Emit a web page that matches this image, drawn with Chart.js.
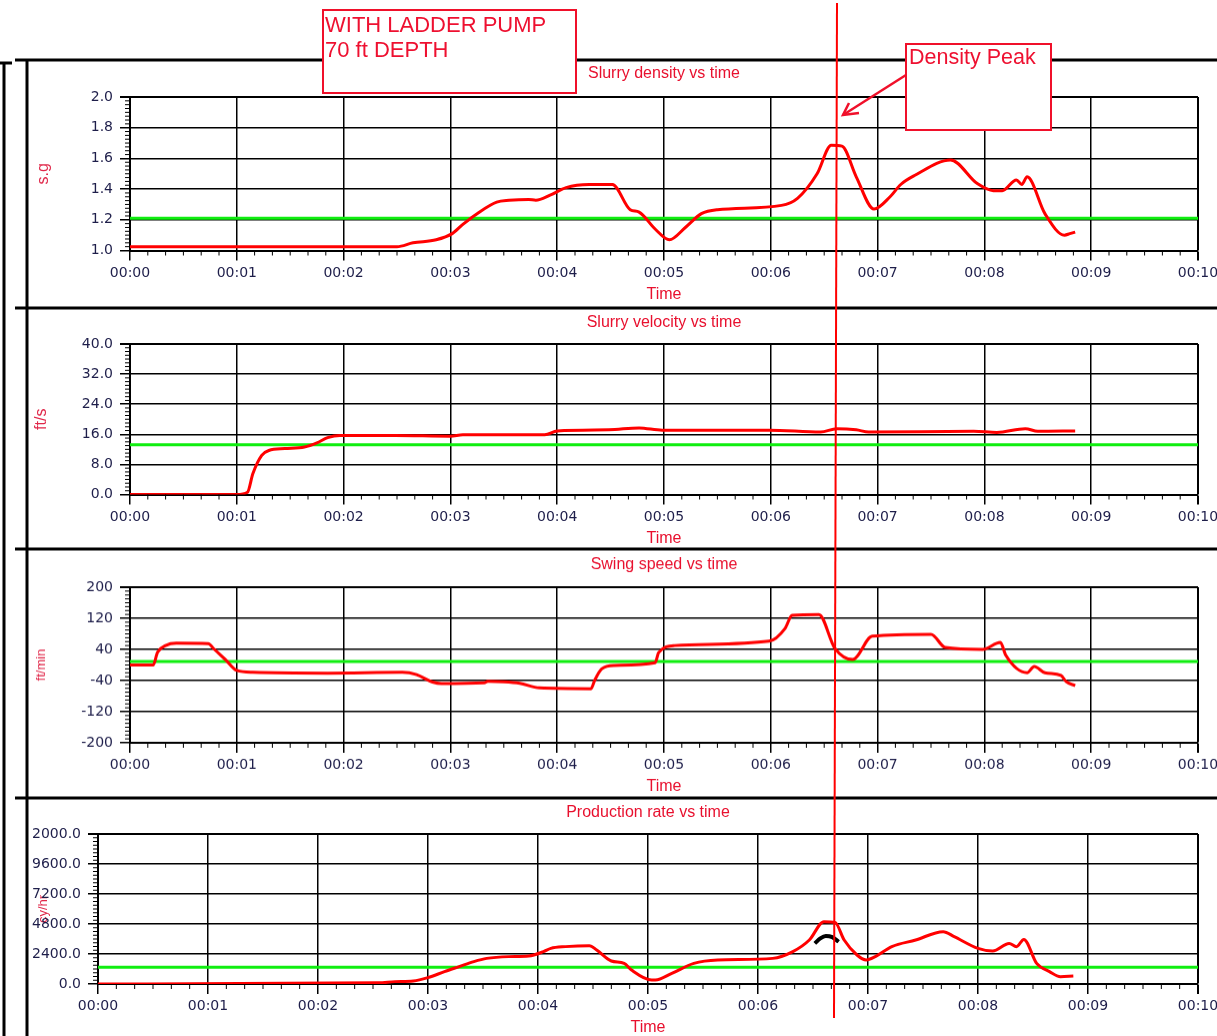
<!DOCTYPE html>
<html>
<head>
<meta charset="utf-8">
<title>Ladder pump run</title>
<script src="https://cdn.jsdelivr.net/npm/chart.js@4.4.1/dist/chart.umd.min.js"></script>
<style>
  html, body { margin: 0; padding: 0; background: #fff; overflow: hidden; }
  body { width: 1217px; height: 1036px; position: relative; }
  .panel { position: absolute; left: 0; width: 1260px; }
  #overlay { position: absolute; left: 0; top: 0; z-index: 5; pointer-events: none; }
</style>
</head>
<body>

<div class="panel" id="p1"><canvas id="densityChart"></canvas></div>
<div class="panel" id="p2"><canvas id="velocityChart"></canvas></div>
<div class="panel" id="p3"><canvas id="swingChart"></canvas></div>
<div class="panel" id="p4"><canvas id="prodChart"></canvas></div>

<svg id="overlay" width="1217" height="1036" font-family="Liberation Sans, Arial, sans-serif">
  <!-- frame -->
  <g stroke="#000" stroke-width="3" fill="none">
    <line x1="15" y1="60" x2="1217" y2="60" />
    <line x1="15" y1="308" x2="1217" y2="308" />
    <line x1="15" y1="549" x2="1217" y2="549" />
    <line x1="15" y1="798" x2="1217" y2="798" />
    <line x1="27" y1="60" x2="27" y2="1036" />
    <line x1="4" y1="62" x2="4" y2="1036" />
    <line x1="0" y1="63" x2="12" y2="63" />
  </g>
  <!-- marker for the density peak -->
  <line x1="837" y1="3" x2="834" y2="1018" stroke="#f00" stroke-width="2" />
  <rect x="323" y="10" width="253" height="83" fill="#fff" stroke="#f0102a" stroke-width="2" />
  <text x="325" y="31.5" font-size="22" fill="#ee1030">WITH LADDER PUMP</text>
  <text x="325" y="56.5" font-size="22" fill="#ee1030">70 ft DEPTH</text>
  <rect x="906" y="44" width="145" height="86" fill="#fff" stroke="#f0102a" stroke-width="2" />
  <text x="909" y="64" font-size="21.5" fill="#ee1030">Density Peak</text>
  <g stroke="#f0102a" stroke-width="2.5" fill="none">
    <line x1="906" y1="75" x2="843" y2="115" />
    <polyline points="849,103 843,115 859,113" />
  </g>
</svg>

<script>
// time axis in seconds, 00:00 .. 00:10
var timeTickLabels = ['00:00', '00:01', '00:02', '00:03', '00:04', '00:05', '00:06', '00:07', '00:08', '00:09', '00:10'];

// slurry density (s.g)
var densityTime = [0, 150, 159, 172, 181, 187, 195, 206, 213, 224, 228, 236, 245, 258, 271, 281, 286, 295, 303, 312,
  321, 330, 366, 375, 386, 394, 400, 408, 418, 427, 433, 441, 461, 476, 485, 490, 498, 501, 504, 514, 525, 528, 531];
var densityValues = [1.025, 1.025, 1.05, 1.07, 1.11, 1.17, 1.24, 1.315, 1.327, 1.333, 1.327, 1.36, 1.41, 1.43, 1.43, 1.266, 1.25, 1.14, 1.07, 1.15,
  1.24, 1.266, 1.294, 1.34, 1.50, 1.686, 1.68, 1.48, 1.27, 1.35, 1.43, 1.49, 1.59, 1.436, 1.39, 1.39, 1.46, 1.43, 1.48, 1.24, 1.10, 1.11, 1.12];
var densityRef = 1.21;
var densityTickLabels = ['1.0', '1.2', '1.4', '1.6', '1.8', '2.0'];

// slurry velocity (ft/s)
var velocityTime = [0, 60, 66, 69, 74, 78, 87, 98, 105, 111, 118, 149, 180, 187, 233, 240, 269, 286, 299, 359,
  388, 397, 408, 415, 474, 487, 503, 510, 531];
var velocityValues = [0, 0, 0.6, 5.5, 10.4, 11.7, 12.2, 12.6, 13.7, 15.1, 15.7, 15.7, 15.5, 15.9, 15.9, 16.9, 17.2, 17.7, 17.1, 17.1,
  16.6, 17.5, 17.2, 16.6, 16.8, 16.5, 17.5, 16.8, 16.9];
var velocityRef = 13.2;
var velocityTickLabels = ['0.0', '8.0', '16.0', '24.0', '32.0', '40.0'];

// swing speed (ft/min)
var swingTime = [0, 13, 15.5, 20, 26, 44, 47, 51, 54, 60, 69, 111, 153, 161, 170, 175, 199, 201, 210, 219,
  230, 259, 261, 265, 272, 295, 297, 306, 359, 368, 372, 387, 396, 406, 417, 450, 458, 479, 489, 492,
  504, 508, 514, 523, 526, 531];
var swingValues = [0, 0, 33, 50, 56, 55, 42, 25, 12, -14, -19, -21, -19, -25, -44, -48, -46, -42, -43, -47,
  -59, -61, -40, -10, -1, 6, 32, 50, 61, 94, 128, 130, 43, 14, 74, 79, 45, 40, 58, 25,
  -20, -4, -20, -27, -43, -53];
var swingRef = 9;
var swingTickLabels = ['-200', '-120', '-40', '40', '120', '200'];

// production rate (cy/hr)
var prodTime = [0, 153, 162, 172, 180, 189, 197, 205, 212, 224, 235, 243, 247, 255, 268, 272, 280, 287, 291, 302,
  304, 313, 325, 338, 368, 379, 388, 396, 402, 407, 414, 419, 424, 433, 446, 461, 467, 480, 488, 497,
  501, 505, 512, 519, 525, 532];
var prodValues = [0, 100, 190, 240, 510, 990, 1390, 1790, 2050, 2190, 2240, 2590, 2850, 2990, 3070, 2720, 1840, 1650, 1120, 320,
  320, 850, 1650, 1920, 2050, 2590, 3520, 4990, 4930, 3520, 2320, 1920, 2190, 2990, 3520, 4190, 3790, 2850, 2640, 3250,
  2990, 3570, 1650, 990, 590, 640];
var prodMarkTime = [391, 394, 397, 400.5, 404];
var prodMarkValues = [3250, 3650, 3840, 3750, 3380];
var prodRef = 1350;
var prodTickLabels = ['0.0', '2400.0', '4800.0', '7200.0', '9600.0', '2000.0'];

var RED = '#ff0000';
var GREEN = '#10ee10';
var TEXT_RED = '#e8102e';
var NAVY = '#1e1e4a';
var TICK_FONT = { family: 'DejaVu Sans', size: 14 };
var TITLE_FONT = { family: 'Liberation Sans', size: 16, weight: 'normal' };

function onStep(v, base, step) {
  var r = (v - base) / step;
  return Math.abs(r - Math.round(r)) < 1e-6;
}

function toPoints(xs, ys) {
  return xs.map(function (x, i) { return { x: x, y: ys[i] }; });
}

// draws the short minor tick marks outside the plot box
function minorTickPlugin(yMin, yMajor) {
  return {
    id: 'minorTicks',
    afterDraw: function (chart) {
      var ctx = chart.ctx, area = chart.chartArea, xs = chart.scales.x, ys = chart.scales.y;
      ctx.save();
      ctx.strokeStyle = '#000';
      ctx.lineWidth = 1;
      ctx.beginPath();
      xs.ticks.forEach(function (t) {
        if (onStep(t.value, 0, 60)) return;
        var px = xs.getPixelForValue(t.value);
        ctx.moveTo(px, area.bottom);
        ctx.lineTo(px, area.bottom + 5);
      });
      ys.ticks.forEach(function (t) {
        if (onStep(t.value, yMin, yMajor)) return;
        var py = ys.getPixelForValue(t.value);
        ctx.moveTo(area.left - 5, py);
        ctx.lineTo(area.left, py);
      });
      ctx.stroke();
      ctx.restore();
    }
  };
}

// p: page geometry of one panel, y: value axis settings
function makePanel(divId, canvasId, p, y, datasets) {
  var canvasTop = p.titleY - 20;
  var canvasH = p.timeY + 20 - canvasTop;
  var div = document.getElementById(divId);
  div.style.top = canvasTop + 'px';
  div.style.height = canvasH + 'px';

  var yTitleLH = y.titleSize * 1.2;

  return new Chart(document.getElementById(canvasId), {
    type: 'line',
    data: { datasets: datasets },
    options: {
      responsive: true,
      maintainAspectRatio: false,
      animation: false,
      events: [],
      layout: { padding: { left: 0, right: 1260 - 1198, top: 0, bottom: 0 } },
      plugins: {
        legend: { display: false },
        tooltip: { enabled: false },
        title: {
          display: true,
          text: p.title,
          color: TEXT_RED,
          font: TITLE_FONT,
          fullSize: false,
          padding: { top: 10.4, bottom: p.plotTop - p.titleY - 9.6 }
        }
      },
      scales: {
        x: {
          type: 'linear',
          min: 0,
          max: 600,
          afterFit: function (s) { s.height = p.timeY + 20 - p.plotBottom; },
          ticks: {
            stepSize: 10,
            autoSkip: false,
            maxRotation: 0,
            padding: 4,
            color: NAVY,
            font: TICK_FONT,
            callback: function (v) { return onStep(v, 0, 60) ? timeTickLabels[Math.round(v / 60)] : ''; }
          },
          grid: {
            color: function (c) { return c.tick && onStep(c.tick.value, 0, 60) ? '#000' : 'rgba(0,0,0,0)'; },
            tickColor: function (c) { return c.tick && onStep(c.tick.value, 0, 60) ? '#000' : 'rgba(0,0,0,0)'; },
            lineWidth: function (c) { return c.tick && c.tick.value === 600 ? 2 : 1.5; },
            tickLength: 10
          },
          border: { color: '#000', width: 2 },
          title: {
            display: true,
            text: 'Time',
            color: TEXT_RED,
            font: TITLE_FONT,
            padding: { top: 0, bottom: 10.4 }
          }
        },
        y: {
          min: y.min,
          max: y.max,
          afterFit: function (s) { s.width = p.left; },
          ticks: {
            stepSize: y.minor,
            autoSkip: false,
            padding: 7,
            color: NAVY,
            font: TICK_FONT,
            callback: function (v) {
              return onStep(v, y.min, y.major) ? y.labels[Math.round((v - y.min) / y.major)] : '';
            }
          },
          grid: {
            color: function (c) { return c.tick && onStep(c.tick.value, y.min, y.major) ? '#000' : 'rgba(0,0,0,0)'; },
            tickColor: function (c) { return c.tick && onStep(c.tick.value, y.min, y.major) ? '#000' : 'rgba(0,0,0,0)'; },
            lineWidth: function (c) { return c.tick && c.tick.value === y.max ? 2 : 1.5; },
            tickLength: 10
          },
          border: { color: '#000', width: 2 },
          title: {
            display: true,
            text: y.title,
            color: '#e0284a',
            font: { family: 'Liberation Sans', size: y.titleSize, weight: 'normal' },
            padding: { top: p.yTitleX - yTitleLH / 2, bottom: 0 }
          }
        }
      }
    },
    plugins: [minorTickPlugin(y.min, y.major)]
  });
}

function dataLine(xs, ys, color, width) {
  return {
    data: toPoints(xs, ys),
    borderColor: color,
    borderWidth: width,
    pointRadius: 0,
    cubicInterpolationMode: 'monotone',
    fill: false
  };
}

function refLine(value) {
  return {
    data: [{ x: 0, y: value }, { x: 600, y: value }],
    borderColor: GREEN,
    borderWidth: 3,
    pointRadius: 0,
    fill: false
  };
}

Chart.defaults.font.family = 'DejaVu Sans';

// density
makePanel('p1', 'densityChart',
  { title: 'Slurry density vs time', titleY: 74, plotTop: 97, plotBottom: 250.5, timeY: 295, left: 130, yTitleX: 44 },
  { min: 1, max: 2, major: 0.2, minor: 0.025, labels: densityTickLabels, title: 's.g', titleSize: 16 },
  [dataLine(densityTime, densityValues, RED, 3), refLine(densityRef)]);

// velocity
makePanel('p2', 'velocityChart',
  { title: 'Slurry velocity vs time', titleY: 322.5, plotTop: 343.5, plotBottom: 494, timeY: 538, left: 130, yTitleX: 42 },
  { min: 0, max: 40, major: 8, minor: 1, labels: velocityTickLabels, title: 'ft/s', titleSize: 16 },
  [dataLine(velocityTime, velocityValues, RED, 3), refLine(velocityRef)]);

// swing speed
makePanel('p3', 'swingChart',
  { title: 'Swing speed vs time', titleY: 565, plotTop: 587, plotBottom: 742, timeY: 785.5, left: 130, yTitleX: 41 },
  { min: -200, max: 200, major: 80, minor: 10, labels: swingTickLabels, title: 'ft/min', titleSize: 13 },
  [dataLine(swingTime, swingValues, RED, 3), refLine(swingRef)]);

// production rate
makePanel('p4', 'prodChart',
  { title: 'Production rate vs time', titleY: 813, plotTop: 834, plotBottom: 984, timeY: 1028, left: 98, yTitleX: 43 },
  { min: 0, max: 12000, major: 2400, minor: 300, labels: prodTickLabels, title: 'cy/hr', titleSize: 13 },
  [dataLine(prodMarkTime, prodMarkValues, '#000', 4), dataLine(prodTime, prodValues, RED, 3), refLine(prodRef)]);
</script>
</body>
</html>
